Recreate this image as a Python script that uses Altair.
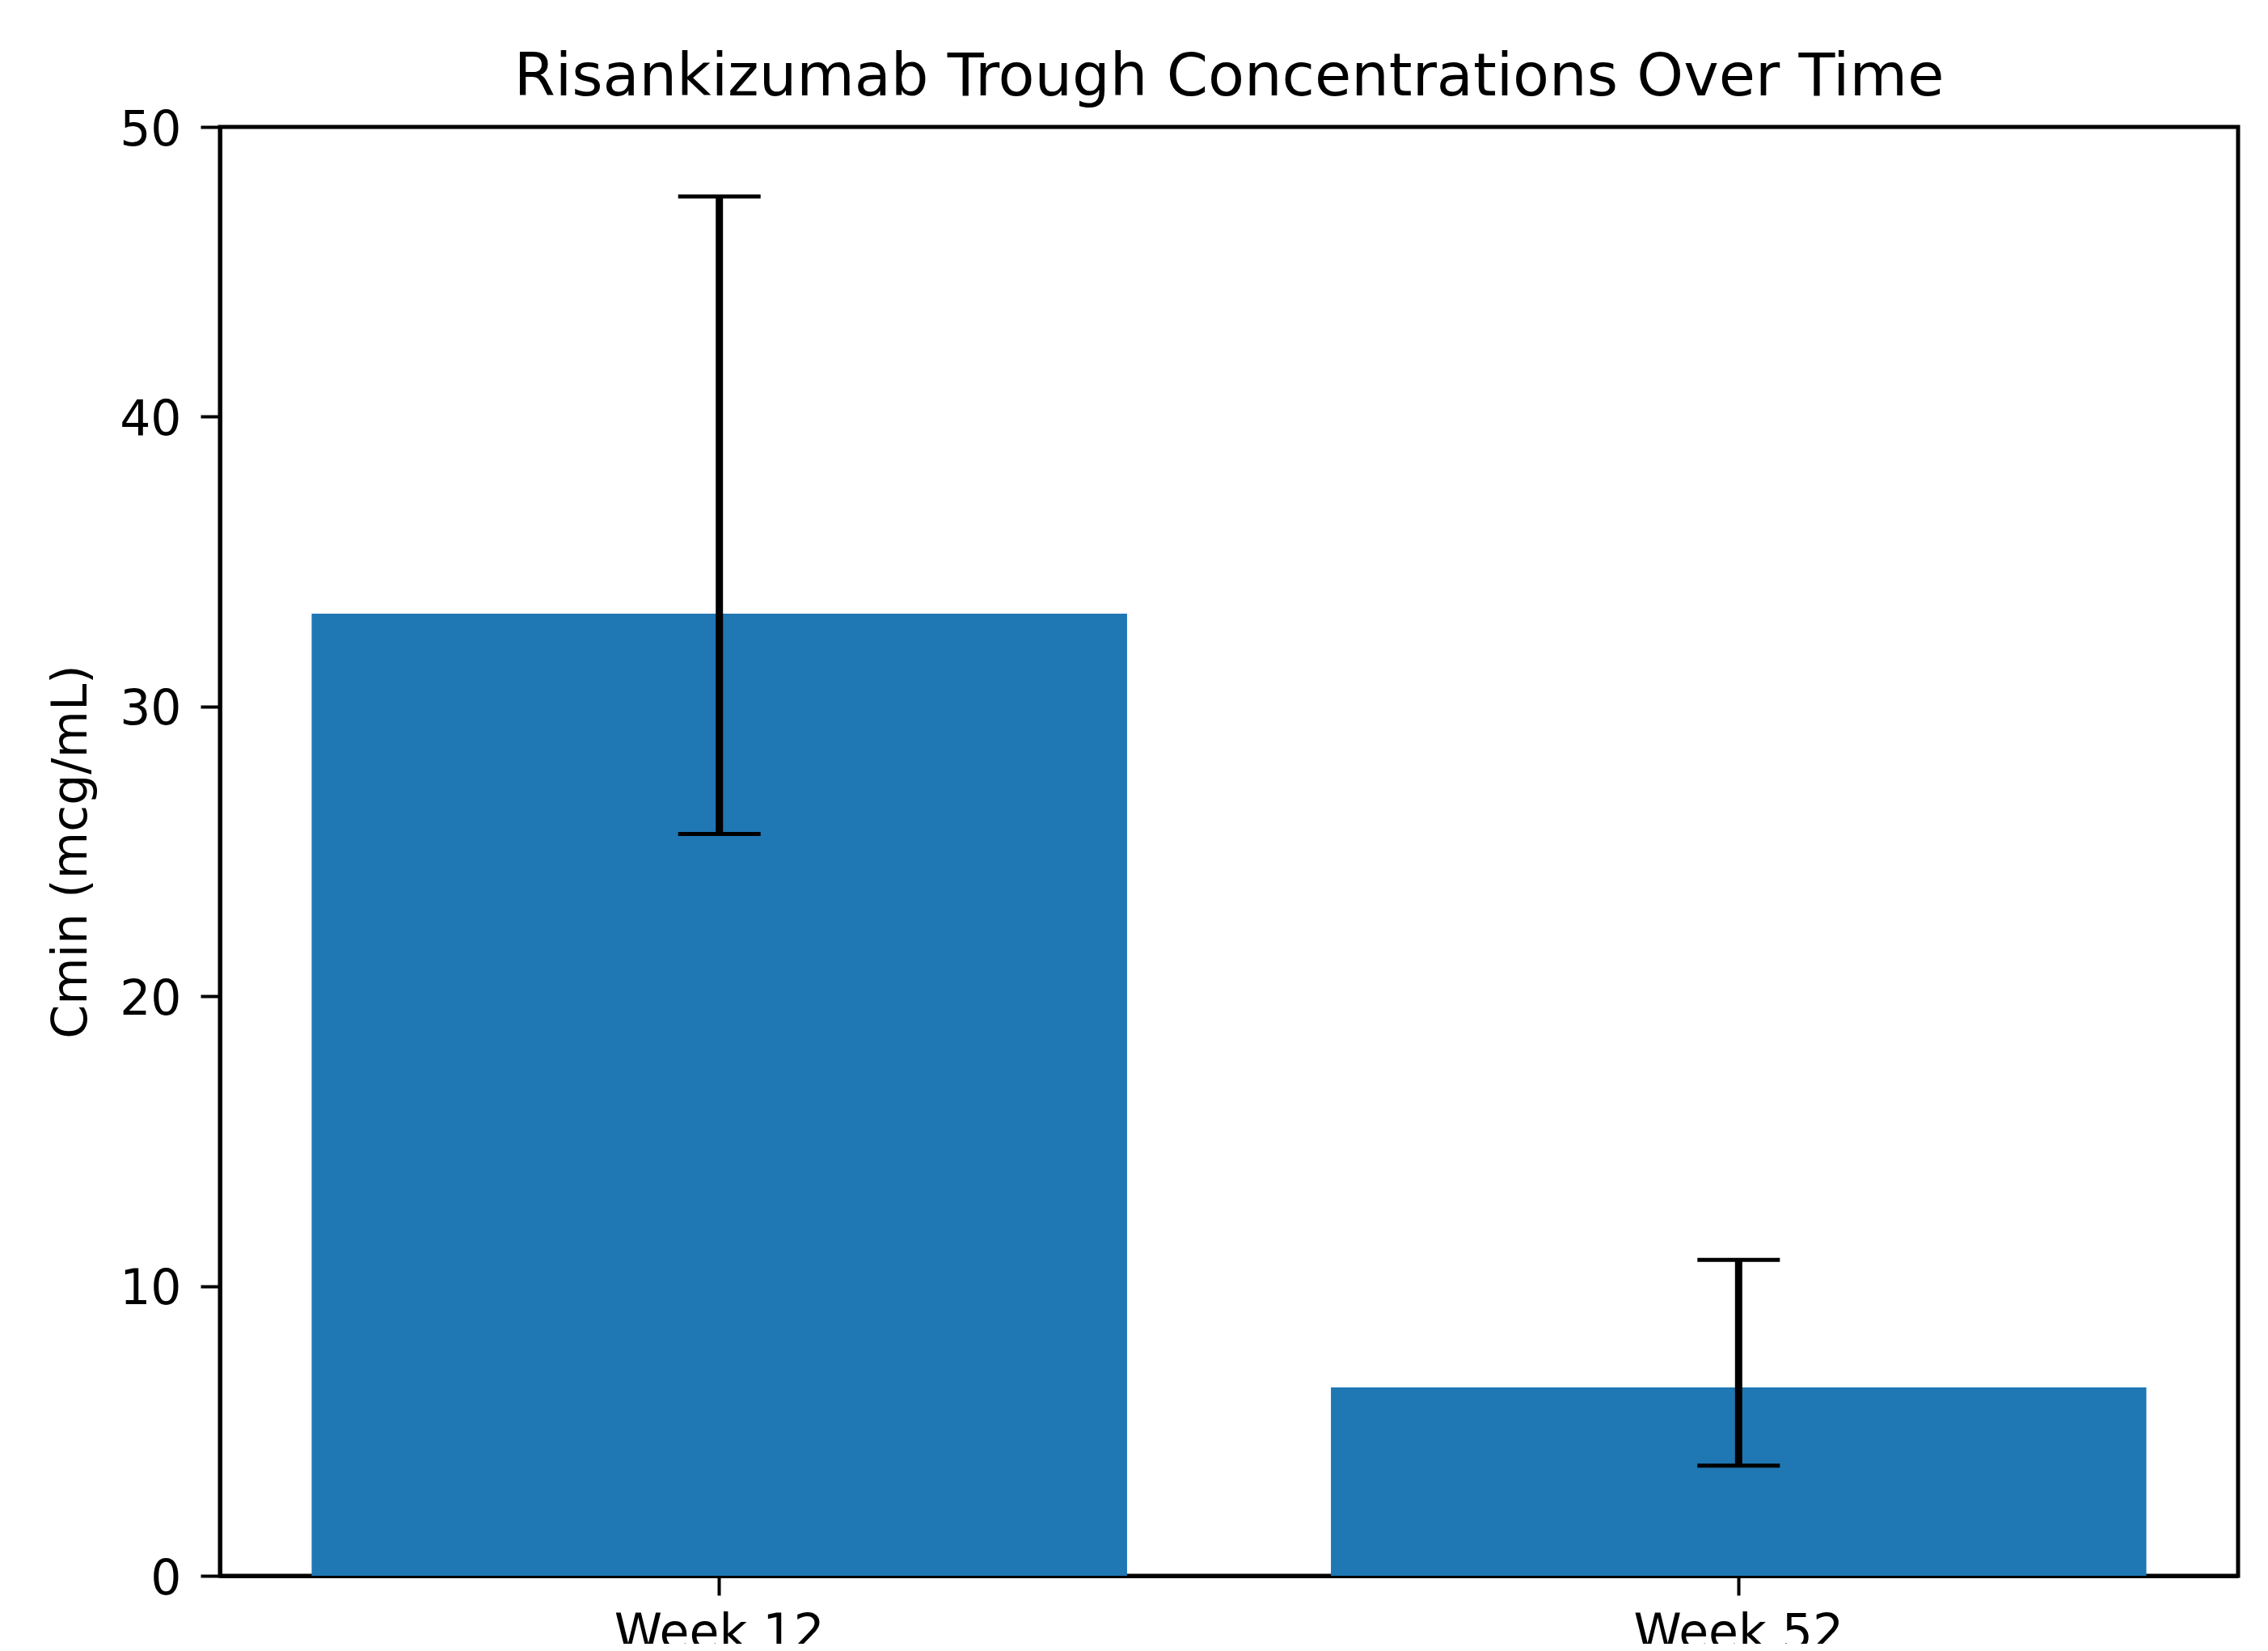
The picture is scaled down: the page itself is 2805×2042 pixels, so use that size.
import altair as alt
import pandas as pd

# Data
weeks = ["Week 12", "Week 52"]
cmin = [33.2, 6.5]
lower = [25.6, 3.8]
upper = [47.6, 10.9]
y_ticks = [0, 10, 20, 30, 40, 50]

df = pd.DataFrame({"week": weeks, "cmin": cmin, "lower": lower, "upper": upper})

FONT = "DejaVu Sans"
W, H = 2496, 1792

x_enc = alt.X(
    "week:N",
    sort=weeks,
    title=None,
    scale=alt.Scale(paddingInner=0.2, paddingOuter=0.09),
    axis=alt.Axis(labelAngle=0, labelPadding=18, labelBaseline="top", labelLimit=2000),
)

y_scale = alt.Scale(domain=[0, 50], nice=False, zero=True)

bars = alt.Chart(df).mark_bar(color="#1f77b4").encode(
    x=x_enc,
    y=alt.Y(
        "cmin:Q",
        scale=y_scale,
        title="Cmin (mcg/mL)",
        axis=alt.Axis(
            values=y_ticks,
            labelPadding=24,
            labelBaseline="alphabetic",
            labelOffset=22,
            titleX=-166,
            titleY=H / 2,
            titleBaseline="alphabetic",
            titleAngle=270,
            titleAlign="center",
            titleFontSize=60,
            titleFont=FONT,
            titleFontWeight="normal",
            titleColor="black",
        ),
    ),
)

err = alt.Chart(df).mark_rule(color="black", strokeWidth=9).encode(
    x=alt.X("week:N", sort=weeks),
    y=alt.Y("lower:Q", scale=y_scale),
    y2="upper:Q",
)

cap_lo = alt.Chart(df).mark_tick(color="black", thickness=5, size=102, opacity=1).encode(
    x=alt.X("week:N", sort=weeks),
    y=alt.Y("lower:Q", scale=y_scale),
)

cap_hi = alt.Chart(df).mark_tick(color="black", thickness=5, size=102, opacity=1).encode(
    x=alt.X("week:N", sort=weeks),
    y=alt.Y("upper:Q", scale=y_scale),
)

chart = (
    alt.layer(bars, err, cap_lo, cap_hi)
    .properties(
        width=W,
        height=H,
        background="white",
        title=alt.TitleParams(
            "Risankizumab Trough Concentrations Over Time",
            font=FONT,
            fontSize=73.5,
            fontWeight="normal",
            color="black",
            offset=38,
            dy=98,
            baseline="alphabetic",
            frame="group",
            anchor="middle",
        ),
        padding={"left": 264, "top": 149, "right": 28, "bottom": 84},
        autosize=alt.AutoSizeParams(type="none"),
    )
    .configure_view(stroke="black", strokeWidth=5)
    .configure_axis(
        labelFont=FONT,
        labelFontSize=60,
        labelColor="black",
        tickColor="black",
        tickWidth=4,
        tickSize=24,
        domainColor="black",
        domainWidth=5,
        grid=False,
        zindex=1,
    )
)

chart.save("out.html", embed_options={"renderer": "svg", "actions": False})
